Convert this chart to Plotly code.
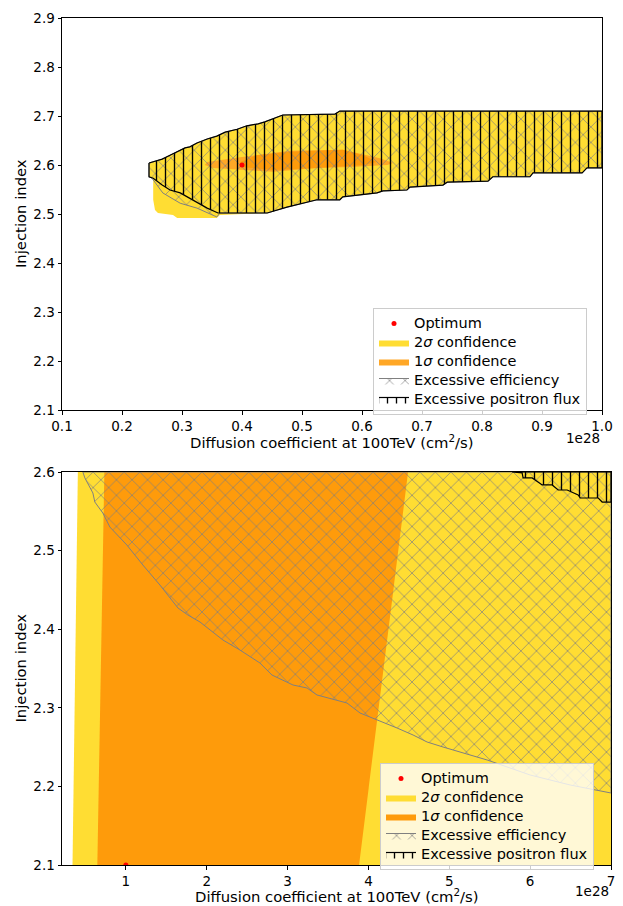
import plotly.graph_objects as go

# ---------------- data (top panel, x in units of 1e28 cm^2/s) ----------------
top_edge_x = [0.245, 0.255, 0.267, 0.28, 0.293, 0.305, 0.313, 0.325, 0.342, 0.358, 0.372,
              0.392, 0.408, 0.427, 0.438, 0.458, 0.468, 0.555, 0.563, 1.0]
top_edge_y = [2.604, 2.608, 2.612, 2.62, 2.627, 2.635, 2.637, 2.645, 2.653, 2.659, 2.667,
              2.673, 2.68, 2.684, 2.688, 2.698, 2.702, 2.704, 2.71, 2.71]
# lower edge, right part (shared), right to left
low_edge_x = [1.0, 0.975, 0.967, 0.885, 0.88, 0.818, 0.81, 0.742, 0.735, 0.68, 0.675, 0.635,
              0.625, 0.568, 0.563, 0.525, 0.475, 0.442]
low_edge_y = [2.594, 2.594, 2.584, 2.584, 2.576, 2.576, 2.567, 2.565, 2.559, 2.555, 2.549, 2.547,
              2.543, 2.535, 2.529, 2.529, 2.514, 2.502]
# lower edge, left part, per region
flux_tail_x = [0.36, 0.342, 0.318, 0.297, 0.28, 0.267, 0.252, 0.245]
flux_tail_y = [2.502, 2.512, 2.529, 2.543, 2.549, 2.559, 2.573, 2.576]
eff_tail_x = [0.363, 0.358, 0.342, 0.325, 0.297, 0.268, 0.25, 0.245]
eff_tail_y = [2.502, 2.494, 2.502, 2.512, 2.522, 2.543, 2.573, 2.576]
sig2_tail_x = [0.363, 0.358, 0.292, 0.285, 0.26, 0.255, 0.252, 0.252, 0.245]
sig2_tail_y = [2.498, 2.492, 2.492, 2.498, 2.502, 2.508, 2.529, 2.573, 2.576]
sig1_x = [0.338, 0.342, 0.397, 0.48, 0.568, 0.63, 0.652, 0.642, 0.58, 0.525, 0.452, 0.408, 0.352]
sig1_y = [2.6, 2.606, 2.616, 2.629, 2.631, 2.614, 2.604, 2.6, 2.596, 2.594, 2.586, 2.59, 2.594]
sig1_core_x = [0.397, 0.425, 0.48, 0.568, 0.602, 0.625, 0.602, 0.525, 0.452, 0.397]
sig1_core_y = [2.606, 2.620, 2.627, 2.631, 2.620, 2.606, 2.6, 2.594, 2.590, 2.596]
opt_top = (0.4, 2.6)

# ---------------- data (bottom panel) ----------------
sig2b_x = [0.34, 0.406, 7.0, 7.0]
sig2b_y = [2.1, 2.6, 2.6, 2.1]
sig1b_x = [0.647, 0.734, 4.49, 3.884]
sig1b_y = [2.1, 2.6, 2.6, 2.1]
effb_x = [0.468, 0.493, 0.592, 0.616, 0.715, 0.802, 1.012, 1.21, 1.421, 1.644, 1.767, 1.916,
          2.2, 2.411, 2.658, 2.807, 3.067, 3.24, 3.364, 3.587, 3.735, 3.896, 4.144, 4.354,
          4.552, 4.725, 4.923, 5.134, 5.468, 6.0, 6.495, 7.0, 7.0]
effb_y = [2.6, 2.5924, 2.5733, 2.5618, 2.5478, 2.53, 2.5071, 2.4817, 2.4562, 2.427, 2.4181,
          2.4092, 2.3863, 2.3735, 2.357, 2.3417, 2.329, 2.3252, 2.3163, 2.3099, 2.3061, 2.2934,
          2.2832, 2.2743, 2.2654, 2.2565, 2.2501, 2.2438, 2.2336, 2.2145, 2.2018, 2.1916, 2.6]
fluxb_x = [5.777, 5.901, 5.913, 6.025, 6.149, 6.272, 6.347, 6.458, 6.594, 6.619, 6.842, 6.891,
           7.0, 7.0]
fluxb_y = [2.6, 2.5987, 2.5924, 2.5924, 2.5835, 2.5835, 2.5771, 2.5771, 2.5707, 2.5669,
           2.5669, 2.5618, 2.5618, 2.6]
opt_bottom = (1.0, 2.1)

top_xticks = [0.1, 0.2, 0.3, 0.4, 0.5, 0.6, 0.7, 0.8, 0.9, 1.0]
top_yticks = [2.1, 2.2, 2.3, 2.4, 2.5, 2.6, 2.7, 2.8, 2.9]
bot_xticks = [1, 2, 3, 4, 5, 6, 7]
bot_yticks = [2.1, 2.2, 2.3, 2.4, 2.5, 2.6]

YELLOW = "#FFDD33"
ORANGE = "#FE9B0B"
ORANGE_LIGHT = "#FFA726"
GRAY = "#808080"
FONT = "DejaVu Sans"
FS = 13.5     # tick labels
LBL = 14.8    # axis labels
LTXT = 14.5   # legend text (visual)
LFS = 11      # legend base size (controls row pitch)

# page body has an 8px default margin: figure is drawn inside it
OFF = 8
W, H = 623 - OFF, 906 - OFF


def fx(p):
    return (p - OFF) / W


def fy(p):
    return 1 - (p - OFF) / H


def lt(s):
    return f'<span style="font-size:{LTXT}px">{s}</span>'


fig = go.Figure()


def poly(x, y, name, xa, ya, legend, fillcolor, line_color=None, line_width=0,
         pattern=None, showlegend=True):
    kw = dict(x=list(x) + [x[0]], y=list(y) + [y[0]], fill="toself", mode="lines",
              name=name, xaxis=xa, yaxis=ya, legend=legend, fillcolor=fillcolor,
              line=dict(color=line_color or "rgba(0,0,0,0)", width=line_width),
              showlegend=showlegend, hoverinfo="skip")
    if pattern is not None:
        kw["fillpattern"] = pattern
    fig.add_trace(go.Scatter(**kw))


eff_pat = dict(shape="x", fgcolor=GRAY, bgcolor="rgba(0,0,0,0)", size=11, solidity=0.12,
               fillmode="replace")
flux_pat = dict(shape="|", fgcolor="black", bgcolor="rgba(0,0,0,0)", size=9, solidity=0.15,
                fillmode="replace")

# ---- top panel ----
fig.add_trace(go.Scatter(x=[opt_top[0]], y=[opt_top[1]], mode="markers", name=lt("Optimum"),
                         marker=dict(color="red", size=5), xaxis="x", yaxis="y",
                         legend="legend", hoverinfo="skip"))
sig2_x = top_edge_x + low_edge_x + sig2_tail_x
sig2_y = top_edge_y + low_edge_y + sig2_tail_y
poly(sig2_x, sig2_y, lt("2<i>σ</i> confidence"), "x", "y", "legend", YELLOW)
poly(sig1_x, sig1_y, lt("1<i>σ</i> confidence"), "x", "y", "legend", ORANGE_LIGHT)
poly(sig1_core_x, sig1_core_y, "core", "x", "y", "legend", ORANGE, showlegend=False)
eff_x = top_edge_x + low_edge_x + eff_tail_x
eff_y = top_edge_y + low_edge_y + eff_tail_y
poly(eff_x, eff_y, lt("Excessive efficiency"), "x", "y", "legend", "rgba(0,0,0,0)",
     line_color=GRAY, line_width=1, pattern=eff_pat)
flux_x = top_edge_x + low_edge_x + flux_tail_x
flux_y = top_edge_y + low_edge_y + flux_tail_y
poly(flux_x, flux_y, lt("Excessive positron flux"), "x", "y", "legend", "rgba(0,0,0,0)",
     line_color="black", line_width=1.2, pattern=flux_pat)
fig.add_trace(go.Scatter(x=[opt_top[0]], y=[opt_top[1]], mode="markers", showlegend=False,
                         marker=dict(color="red", size=5), xaxis="x", yaxis="y",
                         hoverinfo="skip"))

# ---- bottom panel ----
fig.add_trace(go.Scatter(x=[opt_bottom[0]], y=[opt_bottom[1]], mode="markers",
                         name=lt("Optimum"), marker=dict(color="red", size=5), xaxis="x2",
                         yaxis="y2", legend="legend2", hoverinfo="skip"))
poly(sig2b_x, sig2b_y, lt("2<i>σ</i> confidence"), "x2", "y2", "legend2", YELLOW)
poly(sig1b_x, sig1b_y, lt("1<i>σ</i> confidence"), "x2", "y2", "legend2", ORANGE)
poly(effb_x, effb_y, lt("Excessive efficiency"), "x2", "y2", "legend2", "rgba(0,0,0,0)",
     line_color=GRAY, line_width=1, pattern=eff_pat)
poly(fluxb_x, fluxb_y, lt("Excessive positron flux"), "x2", "y2", "legend2", "rgba(0,0,0,0)",
     line_color="black", line_width=1.2, pattern=flux_pat)
fig.add_trace(go.Scatter(x=[opt_bottom[0]], y=[opt_bottom[1]], mode="markers", showlegend=False,
                         marker=dict(color="red", size=5), xaxis="x2", yaxis="y2",
                         hoverinfo="skip"))

axis_common = dict(showline=True, linecolor="black", linewidth=1, mirror=True,
                   ticks="outside", ticklen=3.5, tickcolor="black", tickwidth=1,
                   showgrid=False, zeroline=False, automargin=False,
                   tickfont=dict(family=FONT, size=FS, color="black"))

fig.update_layout(
    width=W, height=H,
    margin=dict(l=0, r=0, t=0, b=0, autoexpand=False),
    paper_bgcolor="white", plot_bgcolor="white",
    font=dict(family=FONT, size=FS, color="black"),
    xaxis=dict(domain=[fx(62), fx(602)], range=[0.1, 1.0], anchor="y",
               tickvals=top_xticks, ticktext=[f"{v:.1f}" for v in top_xticks], **axis_common),
    yaxis=dict(domain=[fy(410), fy(18)], range=[2.1, 2.9], anchor="x",
               tickvals=top_yticks, ticktext=[f"{v:.1f}" for v in top_yticks], **axis_common),
    xaxis2=dict(domain=[fx(62), fx(611)], range=[0.21, 7.0], anchor="y2",
                tickvals=bot_xticks, ticktext=[str(v) for v in bot_xticks], **axis_common),
    yaxis2=dict(domain=[fy(865), fy(472)], range=[2.1, 2.6], anchor="x2",
                tickvals=bot_yticks, ticktext=[f"{v:.1f}" for v in bot_yticks], **axis_common),
    legend=dict(x=fx(373), y=fy(308), xanchor="left", yanchor="top",
                bgcolor="rgba(255,255,255,0.8)", bordercolor="#cccccc", borderwidth=1,
                font=dict(family=FONT, size=LFS), tracegroupgap=0, itemwidth=30),
    legend2=dict(x=fx(380), y=fy(763), xanchor="left", yanchor="top",
                 bgcolor="rgba(255,255,255,0.8)", bordercolor="#cccccc", borderwidth=1,
                 font=dict(family=FONT, size=LFS), tracegroupgap=0, itemwidth=30),
    showlegend=True,
)

xlabel = "Diffusion coefficient at 100TeV (cm<sup>2</sup>/s)"
ann = []
for (cx, ty, rx, oy, my) in [((62 + 602) / 2, 441, 602, 438, (18 + 410) / 2),
                             ((62 + 611) / 2, 895, 611, 891, (472 + 865) / 2)]:
    ann.append(dict(text=xlabel, x=fx(cx), y=fy(ty), xref="paper", yref="paper",
                    showarrow=False, xanchor="center", yanchor="middle",
                    font=dict(family=FONT, size=LBL)))
    ann.append(dict(text="1e28", x=fx(rx), y=fy(oy), xref="paper", yref="paper",
                    showarrow=False, xanchor="right", yanchor="middle",
                    font=dict(family=FONT, size=FS)))
    ann.append(dict(text="Injection index", x=fx(20), y=fy(my), xref="paper",
                    yref="paper", showarrow=False, textangle=-90, xanchor="center",
                    yanchor="middle", font=dict(family=FONT, size=LBL)))
fig.update_layout(annotations=ann)

fig.write_html("out.html")
